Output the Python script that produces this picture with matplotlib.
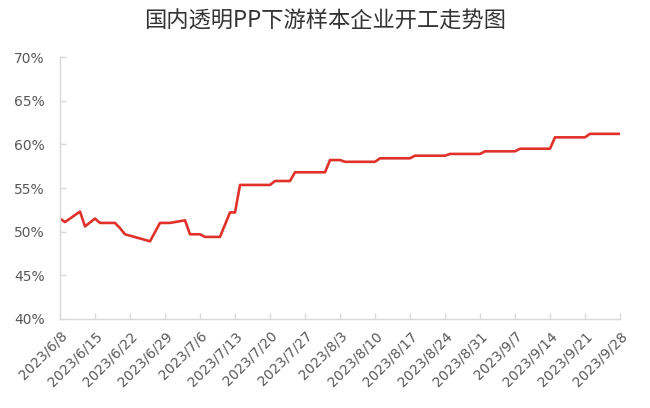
import matplotlib
matplotlib.use("Agg")
import matplotlib.pyplot as plt
import pandas as pd

plt.rcParams['font.family'] = ['Noto Sans CJK SC', 'DejaVu Sans']

title = "国内透明PP下游样本企业开工走势图"

# vertex dates of the line and their values (%)
dates = ["2023-06-08", "2023-06-09", "2023-06-12", "2023-06-13", "2023-06-15", "2023-06-16",
         "2023-06-19", "2023-06-20", "2023-06-21", "2023-06-26", "2023-06-28", "2023-06-30",
         "2023-07-03", "2023-07-04", "2023-07-06", "2023-07-07", "2023-07-10", "2023-07-11",
         "2023-07-12", "2023-07-13", "2023-07-14", "2023-07-20", "2023-07-21", "2023-07-24",
         "2023-07-25", "2023-07-31", "2023-08-01", "2023-08-03", "2023-08-04", "2023-08-10",
         "2023-08-11", "2023-08-17", "2023-08-18", "2023-08-24", "2023-08-25", "2023-08-31",
         "2023-09-01", "2023-09-07", "2023-09-08", "2023-09-14", "2023-09-15", "2023-09-21",
         "2023-09-22", "2023-09-28"]
values = [51.5, 51.1, 52.3, 50.6, 51.5, 51.0,
          51.0, 50.4, 49.7, 48.9, 51.0, 51.0,
          51.3, 49.7, 49.7, 49.4, 49.4, 50.8,
          52.2, 52.2, 55.35, 55.35, 55.8, 55.8,
          56.8, 56.8, 58.2, 58.2, 58.0, 58.0,
          58.4, 58.4, 58.7, 58.7, 58.9, 58.9,
          59.2, 59.2, 59.5, 59.5, 60.8, 60.8,
          61.2, 61.2]

tick_dates = pd.date_range("2023-06-08", "2023-09-28", freq="7D")
tick_labels = [f"{d.year}/{d.month}/{d.day}" for d in tick_dates]
y_ticks = [40, 45, 50, 55, 60, 65, 70]
y_labels = [f"{v}%" for v in y_ticks]

fig = plt.figure(figsize=(6.5, 4.08), dpi=100)
ax = fig.add_axes([60/650, (408-319)/408, 560/650, (319-57)/408])

x = pd.to_datetime(dates)
ax.plot(x, values, color="#e0322b", linewidth=1.9, solid_joinstyle="round")

ax.set_xlim(tick_dates[0], tick_dates[-1])
ax.set_ylim(40, 70)
ax.set_yticks(y_ticks)
ax.set_yticklabels(y_labels, fontsize=10, color="#595959", family="DejaVu Sans")
ax.set_xticks(tick_dates)
ax.set_xticklabels(tick_labels, fontsize=10, color="#595959", rotation=45,
                   ha="right", rotation_mode="anchor", family="DejaVu Sans")

for s in ["top", "right"]:
    ax.spines[s].set_visible(False)
for s in ["left", "bottom"]:
    ax.spines[s].set_color("#d9d9d9")
    ax.spines[s].set_linewidth(1.0)
ax.tick_params(axis="both", direction="in", length=4, color="#d9d9d9", width=1.0)
ax.tick_params(axis="y", pad=11)
ax.tick_params(axis="x", pad=7)

fig.text(0.5, 1 - 21/408, title, ha="center", va="center", fontsize=16, color="#333333")

fig.savefig("out.png", dpi=100)
